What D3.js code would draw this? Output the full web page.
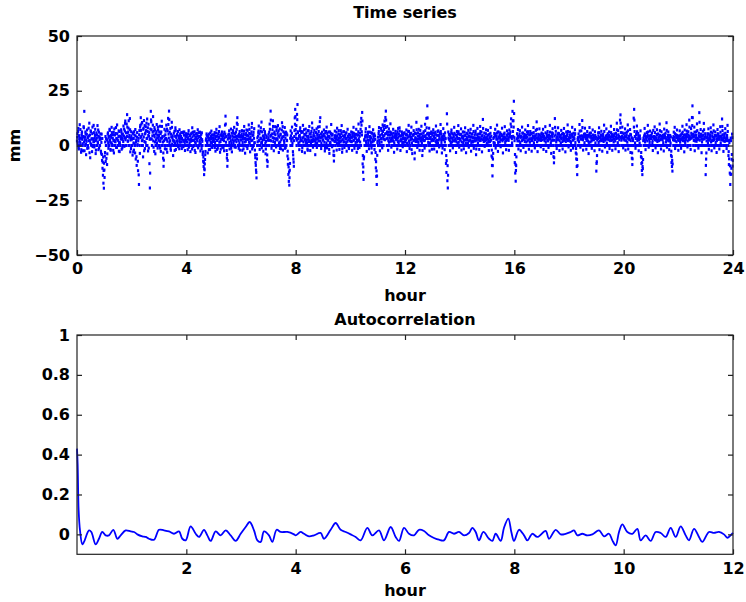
<!DOCTYPE html>
<html>
<head>
<meta charset="utf-8">
<script src="https://cdn.jsdelivr.net/npm/d3@7"></script>
<style>
  html, body { margin: 0; padding: 0; background: #fff; }
  svg { display: block; }
  text { font-family: "DejaVu Sans", sans-serif; font-weight: bold; fill: #000; }
</style>
</head>
<body>
<svg id="chart" width="746" height="602"></svg>
<script>
// Displacement record (mm), one row per hour. Samples on the whole minute...
const seriesMm = [
  [2.1,5.4,0,7.8,-1.6,3.2,9.5,1.4,0,-3.1, 4.6,6.2,0.8,-2.4,3.9,8.1,15.6,2.7,0,5.3, -4.2,1.9,7.1,3.6,0,-1.1,4.4,10.2,2.2,-5.6, 6.7,0.5,3.1,-2.8,8.4,0,1.7,5.9,-0.7,3.3, 7.4,-3.7,2.5,0,4.8,9.1,1.2,-1.9,6.1,3.8, 0,3.4,2.9,-3.5,5.2,-6.8,-10.4,-13.6,-17.2,-19.5],
  [-11.2,-4.8,1.6,-7.3,3.1,0,-8.7,2.4,5.8,-1.3, 4.2,0,6.9,1.5,-2.2,3.7,8.3,0.6,0,4.9, 2.3,-3.4,7.6,1.8,0,5.5,-0.9,3.2,9.4,2.6, 0,4.1,-2.6,6.4,1.3,0,3.8,7.2,-1.7,5.1, 2.8,0,8.9,4.3,-0.4,6.6,11.2,3.5,0,9.8, 14.1,5.7,2.1,7.9,0,4.6,12.3,-2.9,3.4,6.3],
  [0,3.1,-4.4,5.6,1.2,-2.1,4.8,0,7.3,-6.2, 2.5,-9.1,5.9,0.4,-11.5,3.3,-17.8,6.8,-3.6,9.2, 12.7,4.1,0,10.5,2.6,-5.2,7.9,11.4,1.8,-1.4, 5.7,8.6,0,3.2,12.1,6.4,-2.5,9.7,4.2,-8.3, -19.4,7.5,15.6,10.8,2.9,0,6.1,13.2,-0.8,4.7, 8.2,1.6,-3.8,5.3,0,9.6,3.5,-1.2,7.1,2.4],
  [4.6,0,8.8,1.9,-2.7,6.2,11.1,3.4,0,-5.8, -9.5,2.1,7.4,-1.5,4.9,0,9.3,2.6,-3.1,6.7, 12.4,5.2,15.7,1.4,0,7.8,-2.2,3.9,10.6,0.7, 4.4,-4.6,2.3,0,6.5,1.1,8.1,-1.8,3.6,0, 5.1,2.2,-0.6,0,4.3,7.2,1.5,0,3.3,5.9, -1.4,2.8,0,6.1,1.9,4.7,0,-2.3,3.1,5.4],
  [2.4,0,5.1,-1.9,3.6,6.8,0,1.2,4.5,-2.8, 3.1,0,5.7,8.1,2.3,-0.5,4.9,0,6.3,1.6, -3.2,3.8,0,5.5,2.1,7.2,-1.1,0,4.2,1.4, 6.1,-2.5,3.3,0,5.8,1.9,-4.1,-7.2,-9.6,-13.3, -11.1,-6.4,-2.7,2.4,0,4.6,1.1,-3.4,3.7,0, 5.2,2.6,-1.8,0,4.1,6.6,1.3,-0.9,3.5,0],
  [3.2,0,5.9,1.4,-2.6,4.1,7.4,0,2.3,-1.2, 5.3,0,3.7,8.6,-3.1,1.8,0,4.5,6.2,-0.8, 2.7,0,5.1,-2.4,3.6,9.3,13.4,1.5,0,-5.7, -9.5,2.9,4.8,0,6.7,-1.6,3.4,0,7.5,1.2, -2.9,4.2,0,5.6,2.1,8.3,-0.7,0,3.8,6.1, 1.7,10.2,12.7,4.4,0,-1.3,3.9,6.4,0,2.5],
  [4.1,0,6.8,-2.2,2.9,0,5.3,8.7,1.6,-3.5, 3.2,0,7.1,4.6,-1.4,0,2.8,9.4,5.5,1.1, -2.9,3.7,0,6.2,10.1,2.4,-0.6,4.9,0,7.7, 1.3,-4.3,-7.8,-11.2,-14.8,-6.1,3.5,0,5.8,8.9, 2.2,-1.8,0,6.5,3.1,10.7,1.4,0,4.3,-2.6, 7.3,2.7,0,5.1,-3.8,1.9,4.4,-6.7,-9.5,0],
  [3.6,0,6.1,9.8,2.4,15.7,4.7,-1.3,0,7.2, 11.3,1.8,-2.4,5.4,0,8.6,3.1,-0.7,6.9,0, 2.5,9.1,4.4,-3.2,0,7.6,1.6,5.2,-1.5,0, 10.4,3.9,-2.1,6.3,0,1.4,8.2,4.8,-0.9,0, 5.6,2.2,-4.8,-8.6,-13.2,-16.4,-18.1,-11.3,3.3,6.7, 0,2.9,8.4,1.2,-2.8,-6.2,-9.5,4.1,12.6,16.5],
  [7.3,3.4,0,14.2,18.7,5.8,1.1,0,-1.9,4.6, 8.1,2.3,0,6.4,-2.7,3.5,9.2,1.6,0,5.1, -3.3,2.8,7.5,0,4.2,1.3,-1.6,6.8,3.1,0, 8.7,2.2,-2.3,5.4,0,3.9,10.3,1.8,-0.8,4.5, 0,6.9,2.6,-4.2,3.3,0,7.6,1.1,5.2,8.4, 2.1,0,4.7,10.9,12.7,3.6,-1.4,0,6.1,2.4],
  [4.3,0,7.1,1.5,-2.5,5.8,0,3.2,8.4,-1.1, 2.7,0,6.2,4.1,-3.6,1.2,0,5.5,9.6,2.9, -0.6,4.8,0,-4.4,-7.1,3.4,6.6,0,1.9,4.3, -2.1,7.9,2.4,0,5.3,1.1,-1.8,3.6,0,6.8, 2.2,9.1,-3.1,0,4.4,1.6,6.3,-0.9,0,3.1, 5.7,1.3,-2.6,0,7.4,3.8,0,-1.4,4.9,2.1],
  [3.4,0,6.2,1.7,-2.2,4.6,0,8.3,2.5,-1.3, 5.1,0,3.3,7.4,-3.1,1.6,0,4.9,9.8,2.2, -0.9,5.6,0,10.7,12.4,6.3,15.1,-8.4,-12.2,-15.5, -5.2,2.8,0,4.5,7.7,1.1,-2.7,3.9,0,6.1, 2.3,-1.5,8.6,0,4.1,1.4,5.8,-3.4,0,2.6, 7.2,3.7,0,-1.8,4.4,-6.3,-10.2,-14.1,-17.8,-4.5],
  [2.1,0,5.4,8.2,1.3,-2.4,4.7,0,6.9,3.2, -1.1,9.4,4.1,0,7.3,11.2,2.6,12.8,15.7,5.5, 0,8.7,3.4,-2.2,6.1,1.5,0,4.8,9.9,2.3, -0.8,5.2,0,3.6,7.4,1.9,-3.1,4.2,0,6.5, 2.8,0,5.1,-1.6,3.3,7.8,1.2,0,8.1,4.4, -2.3,2.7,0,6.2,1.4,-0.6,4.6,0,3.1,5.8],
  [1.6,0,4.9,7.1,-2.8,3.4,0,6.5,9.2,2.1, -1.4,5.3,0,3.8,8.4,1.2,-3.7,4.6,0,6.8, 2.4,-6.1,5.7,0,3.1,10.6,1.8,-0.9,4.3,0, 7.4,2.9,-2.2,5.1,0,3.6,8.8,1.3,-4.6,4.2, 0,6.3,2.2,-1.2,9.7,4.5,0,12.4,3.3,18.1, 5.6,1.4,0,7.9,-2.5,3.2,0,5.4,2.1,-1.7],
  [4.7,0,7.2,2.3,-1.6,5.5,0,3.4,8.9,1.1, -2.9,4.6,0,6.7,2.5,-0.7,3.9,0,9.6,5.2, 1.4,-3.4,0,4.1,7.7,2.6,0,-1.9,5.8,3.1, -8.2,-12.3,14.5,-16.1,-19.4,6.2,0,2.8,4.7,-2.4, 3.5,0,7.1,1.6,5.4,-1.1,0,3.8,8.3,2.2, 0,4.9,-3.2,1.7,6.4,0,3.2,9.1,1.5,-0.8],
  [5.1,0,2.4,7.6,-2.1,3.7,0,6.2,1.3,-1.5, 4.4,0,8.1,2.7,-3.3,5.6,0,3.1,1.2,6.9, -0.8,4.2,0,2.5,7.4,-2.6,3.8,0,5.3,1.6, 9.2,-1.3,0,4.7,2.1,6.6,-4.2,0,3.4,7.8, 1.1,5.2,0,-1.8,3.6,8.7,2.3,0,6.1,-2.9, 4.5,11.9,0,1.8,5.7,-0.4,3.3,0,7.2,2.6],
  [0,4.3,6.9,1.5,-2.3,5.1,0,3.7,8.2,2.4, -4.8,-9.1,-13.9,-6.2,3.2,0,5.5,1.1,7.4,-1.2, 0,4.1,9.3,2.8,-2.7,6.2,0,3.3,1.7,5.8, -0.6,0,4.6,7.9,2.1,-3.4,0,5.2,3.1,8.6, 1.4,0,-1.9,4.8,6.7,2.5,0,3.6,-2.2,7.1, 5.3,0,9.8,12.2,4.1,1.2,15.6,6.4,11.3,20.2],
  [3.6,-7.8,-12.6,-16.3,-9.2,0,5.4,2.1,7.3,-1.6, 4.2,0,6.8,1.3,-2.4,3.9,0,8.4,2.6,5.7, -0.9,0,4.3,1.8,7.1,-3.1,3.4,0,6.2,2.2, 9.1,0,-1.7,4.9,1.5,6.4,0,3.1,-2.6,5.6, 2.3,0,8.2,1.2,4.4,-1.1,0,6.9,3.5,10.8, 1.7,-2.8,0,5.1,2.8,7.6,0,4.2,-0.6,3.2],
  [5.7,0,2.6,7.4,-1.8,4.1,0,3.3,8.6,1.5, -2.7,5.2,0,6.4,2.1,-0.9,4.6,0,9.2,3.1, 1.2,-3.6,0,5.8,7.7,2.4,-5.1,-7.9,4.3,12.3, 0,6.5,1.6,-1.4,3.9,0,8.1,2.7,5.4,-2.3, 0,4.4,1.1,6.9,3.2,0,-1.6,5.5,2.3,7.8, 0,3.7,-2.9,1.8,6.2,0,4.6,9.4,2.2,-0.7],
  [3.4,0,6.1,1.9,-2.2,4.7,0,8.3,2.4,-1.2, 5.6,0,3.1,7.2,1.4,-3.4,-6.1,-9.6,-13.3,2.8, 0,5.3,1.7,9.6,4.2,-0.8,0,6.7,2.9,11.4, 3.6,-2.1,0,5.2,1.3,7.9,0,4.5,-1.7,3.2, 6.4,0,2.1,-3.7,4.8,8.2,0,1.6,5.7,3.3, -1.3,0,7.1,2.6,4.1,0,-2.4,6.3,1.2,3.8],
  [-11.7,-7.4,2.5,0,5.8,1.4,8.1,-1.9,3.6,0, 4.7,6.5,2.2,-2.6,0,5.1,1.8,9.3,3.4,-0.7, 0,4.2,7.6,1.1,-3.1,5.4,0,2.7,6.2,-1.4, 3.9,0,8.8,2.3,5.1,-2.2,0,4.4,1.6,7.3, 2.8,0,-1.5,5.6,3.2,10.2,0,1.3,6.8,-2.8, 4.1,0,11.6,14.0,5.9,2.4,0,8.4,3.6,-1.1],
  [5.3,0,2.4,7.6,-2.1,3.8,0,6.1,1.5,9.4, -1.6,4.2,0,2.7,7.3,-3.2,4.9,0,-5.8,-8.7, 3.1,0,12.5,16.5,6.4,1.2,-1.3,0,4.8,8.9, 2.3,0,5.5,-2.4,3.6,1.1,0,6.7,-5.1,-8.2, -11.4,-13.3,-10.6,2.2,0,4.4,7.8,1.6,-1.9,3.7, 0,5.9,2.1,9.2,0,-0.8,4.3,1.4,6.6,0],
  [3.2,0,5.7,1.2,-2.3,6.9,0,4.1,8.5,2.6, -1.1,0,3.5,7.2,1.8,-3.3,5.3,0,2.2,9.8, 4.6,0,-1.6,6.3,2.9,0,4.7,1.3,-2.5,7.5, 3.4,0,5.6,1.6,10.4,-0.8,0,3.8,6.2,2.1, -1.9,0,4.6,1.1,-4.5,-7.8,-9.6,-11.7,3.3,0, 6.1,2.4,8.3,-1.4,0,4.9,1.7,7.1,0,3.6],
  [-2.2,4.3,0,6.7,1.5,3.1,-1.3,0,5.4,8.8, 2.2,0,4.6,-2.9,7.1,1.4,0,3.8,9.5,5.2, -0.7,0,6.3,2.6,11.6,4.1,0,-1.8,7.7,3.4, 12.8,18.1,5.1,0,2.3,8.4,-2.4,4.7,0,6.2, 1.9,9.9,3.3,0,-1.2,5.6,15.0,2.4,0,7.3, 4.2,-3.3,1.6,0,6.5,2.9,10.1,0,3.7,5.4],
  [-13.3,-6.2,2.1,0,5.4,1.3,7.6,-1.7,3.2,0, 4.8,8.1,1.6,-2.4,0,5.7,2.3,9.4,3.6,-1.1, 0,6.2,1.4,4.5,-3.2,0,7.3,2.8,5.1,0, -1.6,3.9,8.6,1.2,0,4.4,12.1,6.8,2.5,-2.7, 0,5.3,1.9,7.7,3.1,0,-1.4,4.6,9.2,2.2, -4.6,-8.7,1.3,-12.6,-17.8,3.4,-13.1,-6.3,5.2,-9.4]
];

// ...and the samples taken on the half minute
const seriesMmHalf = [
  [3.8,1.2,6.4,-0.8,4.5,2.1,0,7.3,3.3,-1.9, 5.6,2.8,0,4.1,8.6,1.5,-2.4,3.9,6.2,0.6, 2.4,5.1,-1.3,0,3.7,7.9,2.2,-3.3,4.8,1.1, 6.3,0,2.9,5.4,-0.5,3.1,9.2,1.8,0,4.6, 2.3,-2.1,5.8,3.4,0,1.6,7.1,4.2,-1.2,2.7, 0,5.3,-2.6,1.4,-4.1,3.2,-7.6,-5.3,-11.4,-8.1],
  [-14.6,-3.2,4.1,0,-5.9,2.6,-3.8,5.2,1.3,3.7, 0,7.4,2.5,-1.8,4.6,1.2,5.9,0,3.3,-2.2, 6.1,2.4,0,4.8,1.7,8.2,3.1,-0.9,5.4,0, 2.2,6.7,1.1,-2.8,4.3,0,2.9,6.1,3.6,-1.1, 5.2,1.8,0,7.5,3.4,10.1,2.6,5.8,0,4.1, 8.4,1.9,6.2,11.3,3.8,0,7.2,2.5,-1.4,4.4],
  [2.9,0,5.7,-2.9,3.2,6.3,0.8,-3.4,4.4,1.6, -5.1,3.8,0,-7.2,2.1,-13.4,4.9,0,8.4,3.6, 6.9,9.8,2.2,5.1,0,7.4,3.9,-2.4,9.1,5.3, 1.4,6.8,10.2,3.3,0,8.1,4.6,-1.2,5.9,2.8, -12.6,3.1,11.7,7.2,0,4.4,9.3,2.1,6.6,-2.7, 3.9,7.1,0,2.6,6.3,1.2,4.8,8.4,0,3.7],
  [6.2,2.1,-1.2,5.4,3.3,0,8.7,4.1,1.6,-3.4, -6.7,4.3,0,2.9,6.6,3.2,-1.7,7.5,1.9,0, 9.6,3.4,11.8,6.1,2.2,-1.4,5.2,0,8.3,3.6, 2.4,0,5.6,1.8,-2.3,4.2,6.9,0,2.1,4.7, 1.3,6.4,0,3.5,-1.5,2.7,5.3,0,4.1,1.6, 3.2,0,5.8,-0.6,2.3,6.2,1.4,0,4.4,2.2],
  [4.1,1.6,0,3.2,5.4,-0.8,2.6,4.7,0,1.9, 5.3,2.2,-1.6,3.9,6.1,0,2.4,4.6,-2.2,3.1, 1.1,5.2,0,2.8,4.4,-0.6,3.6,5.9,0,2.3, 4.1,0.8,5.1,-1.4,2.7,0,-2.9,-5.3,-7.8,-10.6, -8.4,-4.2,0,3.1,5.3,1.8,0,4.2,2.5,-1.9, 3.3,0,5.7,1.4,2.9,-0.7,4.8,0,2.2,4.9],
  [1.8,4.6,-0.9,3.1,0,5.7,2.4,-1.8,4.2,0, 3.1,6.4,1.5,0,4.8,-1.7,2.9,5.3,0,3.6, 4.4,-1.1,2.2,6.1,0,5.2,9.8,4.1,-2.3,-4.1, -6.8,0,3.6,5.2,1.4,0,4.3,2.2,-1.3,5.6, 0,2.7,6.8,1.3,3.9,0,5.4,2.4,-0.8,4.2, 7.4,3.1,9.6,0,2.3,5.1,1.2,-2.1,4.5,0],
  [2.6,5.3,0,1.4,4.1,-1.5,6.6,3.2,0,4.8, 1.9,5.5,-0.4,2.8,6.9,0,4.2,1.6,7.4,3.1, 0,5.2,2.2,8.3,-1.6,4.6,0,6.1,3.3,1.2, -2.1,-5.6,-9.1,-12.3,-4.2,0,1.7,4.3,6.6,2.2, 5.3,0,3.4,8.1,1.2,-1.1,6.2,2.6,0,4.4, 3.6,0,6.3,1.1,-1.6,3.5,0,-4.3,-7.4,2.4],
  [5.1,2.4,0,7.4,4.2,11.6,2.1,0,5.3,3.6, 8.7,0,3.3,6.2,1.4,4.9,0,2.7,8.3,3.1, 5.6,0,6.7,1.2,3.8,-1.4,4.9,0,2.6,7.1, 3.4,8.6,0,4.1,2.2,5.7,-1.3,3.3,6.1,0, 2.4,4.8,-2.6,-6.1,-9.8,-12.1,-14.7,-8.2,0,4.4, 2.1,5.6,0,3.4,-4.3,-7.6,2.2,6.8,9.7,13.2],
  [5.2,9.1,2.4,11.8,6.3,3.1,0,4.2,1.6,6.8, 3.4,0,5.9,2.2,-1.1,6.1,0,3.8,7.2,2.5, 0,4.9,1.4,5.8,2.6,0,-2.2,4.1,6.7,1.8, 5.3,0,3.9,1.2,6.4,2.3,7.9,0,3.1,5.6, 2.2,4.3,0,1.4,5.9,2.8,-0.9,4.6,3.2,0, 6.4,3.7,8.6,2.1,0,5.3,1.1,3.8,4.4,0],
  [2.6,5.1,0,4.3,-1.3,3.6,6.4,1.2,0,5.5, 4.1,2.3,0,-1.8,3.5,6.2,1.4,0,4.7,2.9, 5.2,0,2.4,-2.6,-4.6,1.8,4.5,0,3.2,6.1, 0.9,4.4,0,3.3,6.8,2.2,0,4.9,1.6,3.8, 5.5,0,-1.5,2.7,6.3,0,3.9,1.7,4.6,0, 3.2,5.8,0,1.9,4.3,2.6,-0.7,5.1,0,3.4],
  [4.6,1.9,0,3.7,5.9,0,2.2,5.6,4.1,0, 3.6,1.4,5.1,0,2.4,4.7,-1.4,6.3,3.1,0, 4.2,1.6,7.4,0,9.3,4.8,11.2,-4.6,-9.8,-6.1, 2.4,0,3.9,6.2,1.8,4.6,0,2.6,5.2,1.1, 0,4.1,6.1,2.7,0,3.5,-1.2,5.6,1.6,0, 4.8,2.1,5.3,0,2.8,-3.2,-7.4,-11.6,-13.9,1.2],
  [3.8,0,6.5,2.4,4.2,0,3.1,7.8,1.6,5.2, 0,6.4,8.7,2.9,4.6,9.1,5.3,8.2,11.6,3.1, 6.2,0,4.9,2.2,7.6,0,3.4,6.2,1.9,5.8, 3.2,0,4.1,2.2,5.6,0,1.2,3.7,5.3,0, 4.1,2.6,0,6.3,1.8,3.9,5.2,0,6.6,2.1, 0,4.3,2.4,5.1,0,3.2,1.4,5.6,0,2.8],
  [3.4,0,2.6,5.2,1.1,4.7,0,3.9,6.4,1.3, 4.2,0,2.7,5.6,-1.9,3.1,0,4.8,2.2,5.1, 0,-3.4,3.6,1.8,5.4,7.2,0,2.9,5.8,1.4, 4.3,0,3.2,6.9,2.1,0,5.3,2.6,-2.3,3.1, 5.6,0,4.1,2.4,6.8,0,3.3,8.1,5.2,12.6, 3.1,0,4.6,5.6,1.2,0,3.7,6.2,0,2.4],
  [2.9,5.8,0,4.1,3.2,0,6.1,1.8,4.9,0, 2.3,6.4,1.1,0,4.6,3.1,5.8,0,6.4,2.7, 0,3.9,-1.2,2.8,5.1,0,4.4,1.6,3.3,0, -4.6,-6.9,9.8,-9.2,-13.6,3.4,5.1,0,2.2,4.6, 1.3,5.9,0,3.4,2.6,0,4.8,2.1,5.6,0, 3.1,2.2,0,4.6,3.7,1.1,5.4,6.3,0,3.2],
  [2.8,4.9,0,5.1,1.6,0,4.2,3.3,0,2.4, 6.1,0,4.6,1.2,0,3.8,2.7,5.4,0,4.2, 2.1,0,5.7,3.9,0,1.4,5.2,2.1,0,3.6, 6.4,2.1,0,3.3,5.6,0,-1.6,2.4,4.9,0, 3.7,2.8,0,2.2,5.3,6.4,0,3.1,4.4,0, 2.6,7.8,3.2,0,4.1,2.2,0,5.4,3.6,1.2],
  [3.1,0,4.8,2.6,0,3.4,1.8,5.6,0,4.2, -2.1,-5.4,-9.2,-3.6,1.4,3.8,0,4.3,5.1,0, 2.9,5.6,0,6.1,1.4,3.9,0,4.7,3.6,0, 2.6,5.1,0,4.4,3.1,0,2.8,3.9,5.7,0, 3.6,2.2,0,3.1,4.6,0,5.4,2.3,0,4.9, 3.8,6.2,0,8.6,3.1,0,11.3,4.2,8.4,14.6],
  [2.2,-4.1,-8.6,-11.4,-5.2,3.1,0,4.2,3.6,0, 2.1,5.3,0,3.7,4.1,0,2.2,5.6,0,3.9, 2.8,0,5.1,3.4,0,4.6,1.6,0,3.8,5.2, 6.3,2.6,0,3.1,4.8,0,5.4,2.2,0,3.3, 4.2,0,5.9,3.6,0,2.7,4.4,0,5.1,7.4, 3.2,0,3.9,2.4,0,4.8,3.1,0,2.3,5.2],
  [3.9,0,4.6,5.2,0,3.1,2.2,0,5.8,3.4, 0,4.1,2.6,0,4.8,3.3,0,2.9,6.1,4.2, 0,2.2,4.7,3.8,5.4,0,-3.2,-5.6,2.4,8.3, 4.9,0,3.4,2.6,0,5.1,5.6,0,3.9,2.2, 0,4.6,3.4,0,5.2,1.8,0,3.6,4.4,5.1, 2.4,0,3.3,4.1,0,2.8,5.6,6.4,0,3.5],
  [2.4,4.7,0,3.6,1.4,0,5.2,4.1,0,2.6, 3.8,0,4.9,5.4,0,-1.4,-3.9,-6.4,-9.2,3.6, 2.4,0,3.8,6.6,0,2.9,4.3,0,4.4,8.2, 2.6,0,3.9,4.1,0,5.3,3.2,0,2.3,4.7, 3.6,0,4.2,1.4,0,5.6,3.8,0,4.2,2.1, 0,3.4,4.8,0,2.7,3.9,0,4.6,3.1,0],
  [-8.2,-4.6,0,3.2,4.4,0,5.9,2.1,0,3.7, 2.6,4.8,0,3.1,4.2,0,2.9,6.4,0,2.4, 3.6,0,4.6,2.9,0,3.8,4.2,0,4.7,2.2, 0,3.4,5.9,0,4.1,2.6,0,3.2,4.4,5.3, 0,2.1,3.8,0,4.6,7.2,0,3.4,4.9,0, 2.6,3.8,8.1,10.2,3.6,0,4.2,5.8,0,2.9],
  [3.4,0,4.1,5.6,0,2.2,4.8,0,3.3,6.7, 0,2.9,4.2,0,5.1,2.2,0,3.6,-3.4,-6.1, 2.2,0,8.4,11.6,4.1,0,3.2,5.1,0,6.3, 3.1,0,4.2,2.6,0,4.4,3.1,0,-3.2,-5.6, -7.8,-9.6,-6.4,3.4,0,2.6,5.3,0,4.1,2.7, 0,3.8,4.6,6.2,0,3.1,2.6,0,4.4,3.3],
  [4.6,0,3.8,2.2,0,4.1,3.3,0,5.9,3.8, 0,2.4,4.9,5.1,0,2.3,3.6,0,4.1,6.8, 2.7,0,3.1,4.2,0,2.5,3.6,0,3.9,5.1, 4.2,0,3.6,2.8,6.9,0,2.4,4.6,3.1,0, 3.3,2.2,0,3.9,-2.6,-5.1,-6.8,-8.4,2.6,4.1, 0,3.7,5.4,2.2,0,3.6,4.1,4.6,0,2.8],
  [2.3,3.1,0,4.4,2.6,4.9,0,2.8,3.6,6.1, 3.8,0,3.3,2.1,4.9,0,2.7,4.4,6.6,3.9, 2.1,0,4.8,3.6,8.4,2.9,0,3.4,5.6,4.7, 9.1,12.7,3.8,0,4.2,6.1,2.1,3.3,0,4.6, 3.2,6.8,2.7,0,3.1,4.4,10.6,4.1,0,5.2, 3.1,0,2.9,4.3,4.8,0,7.2,3.1,0,4.2],
  [-9.1,-3.4,3.6,0,4.1,2.7,5.3,0,2.4,4.2, 3.1,6.1,0,2.2,4.4,3.8,0,6.7,2.6,0, 4.6,4.3,0,3.1,2.2,0,5.4,4.1,3.6,0, 2.8,4.2,6.1,0,2.6,3.3,8.7,4.9,0,2.1, 3.6,4.1,0,5.6,2.2,0,3.6,3.3,6.4,0, -2.8,-6.1,2.4,-9.3,-13.2,2.2,-10.4,-4.1,3.6,-6.8]
];

// Sample autocorrelation of the record: lag (hours) and coefficient
const acfLagHours = [
  0, 0.012, 0.03, 0.055, 0.098, 0.128, 0.220, 0.262, 0.341, 0.402, 0.463, 0.524, 0.585, 0.665, 0.738, 0.799,
  0.890, 0.982, 1.043, 1.104, 1.195, 1.256, 1.317, 1.409, 1.500, 1.591, 1.683, 1.774, 1.866, 1.927, 1.988,
  2.079, 2.171, 2.232, 2.323, 2.384, 2.445, 2.537, 2.628, 2.720, 2.811, 2.902, 2.994, 3.085, 3.159, 3.238,
  3.299, 3.360, 3.421, 3.512, 3.573, 3.652, 3.726, 3.848, 3.970, 4.000, 4.091, 4.152, 4.244, 4.335, 4.457,
  4.518, 4.640, 4.732, 4.823, 4.915, 5.006, 5.098, 5.189, 5.311, 5.402, 5.524, 5.616, 5.738, 5.829, 5.890,
  5.982, 6.073, 6.165, 6.256, 6.348, 6.439, 6.530, 6.622, 6.713, 6.805, 6.896, 6.988, 7.079, 7.171, 7.232,
  7.293, 7.354, 7.433, 7.537, 7.598, 7.659, 7.750, 7.811, 7.890, 7.945, 7.994, 8.085, 8.177, 8.238, 8.329,
  8.421, 8.573, 8.634, 8.756, 8.848, 8.939, 9.030, 9.091, 9.152, 9.244, 9.335, 9.427, 9.549, 9.640, 9.732,
  9.793, 9.854, 9.915, 9.976, 10.067, 10.159, 10.250, 10.311, 10.402, 10.494, 10.585, 10.677, 10.768, 10.860,
  10.951, 11.043, 11.134, 11.195, 11.287, 11.378, 11.439, 11.561, 11.652, 11.744, 11.835, 11.896, 11.957, 12.0
];
const acfValue = [
  0.43, 0.35, 0.12, 0.02, -0.05, -0.038, 0.020, 0.012, -0.050, -0.022, 0.012, -0.005, -0.005, 0.023, -0.022, -0.005,
  0.020, 0.015, 0.012, 0.000, -0.010, -0.013, -0.022, -0.027, 0.023, 0.020, 0.015, 0.003, 0.015, -0.022, -0.030,
  0.040, 0.003, -0.013, 0.023, -0.005, -0.033, 0.015, -0.005, 0.020, -0.005, -0.033, 0.003, 0.037, 0.062, 0.020,
  -0.030, -0.038, 0.015, -0.005, -0.038, 0.023, 0.012, 0.012, 0.000, -0.005, 0.012, 0.003, -0.010, -0.005, 0.007,
  -0.022, 0.023, 0.057, 0.023, 0.012, 0.000, -0.013, -0.030, 0.033, -0.005, 0.020, -0.030, 0.037, -0.013, -0.033,
  0.033, 0.003, -0.005, 0.023, 0.017, -0.005, -0.018, -0.027, -0.030, 0.012, 0.003, 0.012, -0.005, 0.007, 0.033,
  0.012, -0.030, 0.012, -0.022, -0.033, 0.003, -0.033, 0.033, 0.079, 0.012, -0.033, 0.023, -0.005, -0.030, 0.003,
  -0.013, 0.017, -0.022, 0.023, 0.000, 0.003, 0.012, 0.020, -0.005, 0.003, -0.005, 0.000, 0.020, -0.010, 0.003,
  -0.030, -0.055, 0.012, 0.050, 0.012, 0.003, 0.028, -0.030, -0.005, -0.033, 0.012, 0.007, -0.013, 0.033,
  -0.013, 0.040, -0.005, -0.030, 0.028, -0.013, -0.038, 0.012, 0.007, 0.012, 0.000, -0.017, -0.005, 0.007
];

const seriesXTicks = [0, 4, 8, 12, 16, 20, 24];
const seriesYTicks = [-50, -25, 0, 25, 50];
const acfXTicks = [2, 4, 6, 8, 10, 12];
const acfYTicks = [0, 0.2, 0.4, 0.6, 0.8, 1];

const svg = d3.select("#chart");
const plotLeft = 77, plotRight = 733;
const lineBlue = "#0000ff";
const tickLen = 5;

// Closed box with inward ticks on all four sides
function drawFrame(g, x, y, xTicks, yTicks, xFmt, yFmt) {
  const [x0, x1] = x.range();
  const [y0, y1] = y.range(); // y0 bottom, y1 top
  g.append("rect")
    .attr("x", x0).attr("y", y1)
    .attr("width", x1 - x0).attr("height", y0 - y1)
    .attr("fill", "none").attr("stroke", "#222").attr("stroke-width", 1.2);

  const gb = g.append("g").attr("transform", `translate(0,${y0})`)
    .call(d3.axisBottom(x).tickValues(xTicks).tickSize(-tickLen).tickPadding(8).tickFormat(xFmt));
  const gt = g.append("g").attr("transform", `translate(0,${y1})`)
    .call(d3.axisTop(x).tickValues(xTicks).tickSize(-tickLen).tickFormat(""));
  const gl = g.append("g").attr("transform", `translate(${x0},0)`)
    .call(d3.axisLeft(y).tickValues(yTicks).tickSize(-tickLen).tickPadding(7).tickFormat(yFmt));
  const gr = g.append("g").attr("transform", `translate(${x1},0)`)
    .call(d3.axisRight(y).tickValues(yTicks).tickSize(-tickLen).tickFormat(""));

  [gb, gt, gl, gr].forEach(a => {
    a.select(".domain").remove();
    a.selectAll(".tick line").attr("stroke", "#222").attr("stroke-width", 1.2);
    a.selectAll(".tick text")
      .style("font-family", "'DejaVu Sans', sans-serif")
      .style("font-weight", "bold")
      .style("font-size", "16px")
      .attr("fill", "#000");
  });
}

const minusFmt = d => (d < 0 ? "\u2212" + Math.abs(d) : String(d));

// ---------- Time series panel ----------
const xSeries = d3.scaleLinear().domain([0, 24]).range([plotLeft, plotRight]);
const ySeries = d3.scaleLinear().domain([-50, 50]).range([255, 36]);
const gTop = svg.append("g");

const points = [];
seriesMm.forEach((row, h) => {
  row.forEach((v, i) => points.push({ t: h + i / row.length, v }));
});
seriesMmHalf.forEach((row, h) => {
  row.forEach((v, i) => points.push({ t: h + (i + 0.5) / row.length, v }));
});

gTop.append("g")
  .selectAll("rect")
  .data(points)
  .join("rect")
  .attr("x", d => xSeries(d.t) - 1.1)
  .attr("y", d => ySeries(d.v) - 1.5)
  .attr("width", 2.2)
  .attr("height", 3)
  .attr("fill", lineBlue);

drawFrame(gTop, xSeries, ySeries, seriesXTicks, seriesYTicks, d => d, minusFmt);

gTop.append("text").attr("x", 405).attr("y", 18).attr("text-anchor", "middle")
  .style("font-size", "16px").text("Time series");
gTop.append("text").attr("x", 405).attr("y", 301).attr("text-anchor", "middle")
  .style("font-size", "16px").text("hour");
gTop.append("text")
  .attr("transform", `translate(20,${ySeries(0)}) rotate(-90)`)
  .attr("text-anchor", "middle")
  .style("font-size", "16px").text("mm");

// ---------- Autocorrelation panel ----------
const xAcf = d3.scaleLinear().domain([0, 12]).range([plotLeft, plotRight]);
const yAcf = d3.scaleLinear().domain([-0.1, 1]).range([554.3, 335]);
const gBot = svg.append("g");

const acf = acfLagHours.map((lag, i) => ({ lag, r: acfValue[i] }));
gBot.append("path")
  .datum(acf)
  .attr("fill", "none")
  .attr("stroke", lineBlue)
  .attr("stroke-width", 1.8)
  .attr("stroke-linejoin", "round")
  .attr("d", d3.line().curve(d3.curveCatmullRom.alpha(0.5))
    .x(d => xAcf(d.lag)).y(d => yAcf(d.r)));

drawFrame(gBot, xAcf, yAcf, acfXTicks, acfYTicks, d => d, d => String(d));

gBot.append("text").attr("x", 405).attr("y", 325).attr("text-anchor", "middle")
  .style("font-size", "16px").text("Autocorrelation");
gBot.append("text").attr("x", 405).attr("y", 596).attr("text-anchor", "middle")
  .style("font-size", "16px").text("hour");
</script>
</body>
</html>
